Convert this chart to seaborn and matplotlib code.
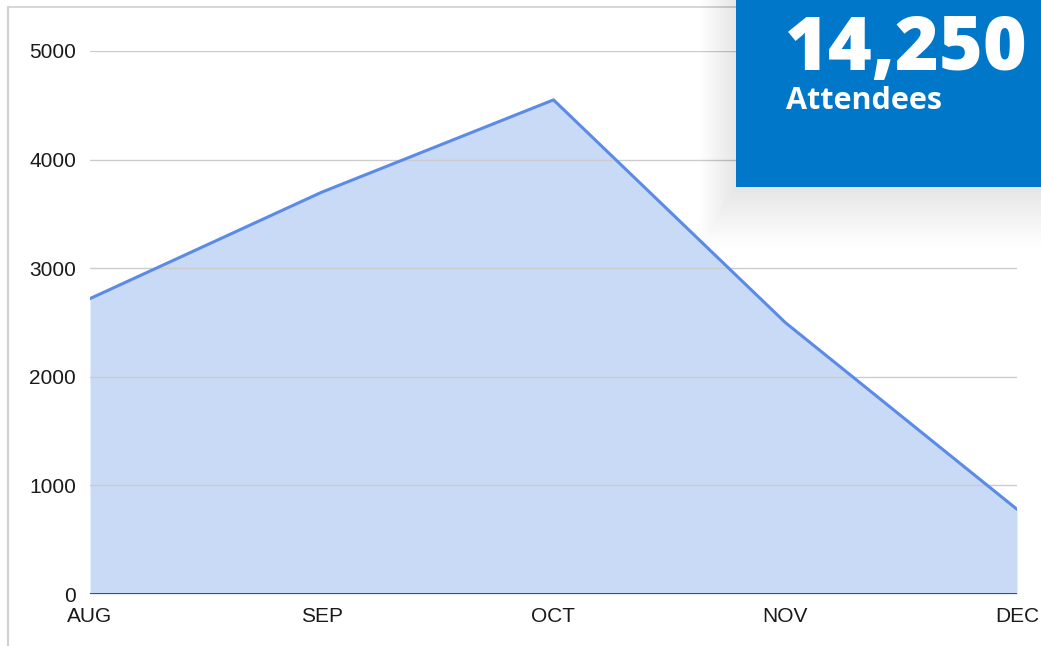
import matplotlib
matplotlib.use("Agg")
import matplotlib.pyplot as plt
from matplotlib.patches import Rectangle
import seaborn as sns
import pandas as pd

months = ["AUG", "SEP", "OCT", "NOV", "DEC"]
attendees = [2720, 3700, 4550, 2500, 780]
y_ticks = [0, 1000, 2000, 3000, 4000, 5000]
total_label = "14,250"
total_caption = "Attendees"

sns.set_style("white")
plt.rcParams["font.family"] = ["Liberation Sans", "DejaVu Sans"]

df = pd.DataFrame({"month": months, "value": attendees, "pos": range(len(months))})

W, H = 1041, 646
fig = plt.figure(figsize=(W / 100, H / 100), dpi=100)
fig.patch.set_facecolor("white")
ax = fig.add_axes([90 / W, 1 - 594 / H, (1017 - 90) / W, (594 - 51) / H])

ax.fill_between(df["pos"], df["value"], 0, color="#C9DAF6", zorder=1, linewidth=0)
sns.lineplot(data=df, x="pos", y="value", ax=ax, color="#5B8BE6", linewidth=2.2, zorder=3)

ax.set_xlim(0, len(months) - 1)
ax.set_ylim(0, 5000)
ax.set_yticks(y_ticks)
ax.set_yticklabels([str(t) for t in y_ticks], fontsize=15, color="#1A1A1A")
ax.set_xticks(df["pos"])
ax.set_xticklabels(months, fontsize=15, color="#1A1A1A")
ax.tick_params(axis="y", length=0, pad=10)
ax.tick_params(axis="x", length=0, pad=9)
for t in y_ticks[1:]:
    ax.axhline(t, color="#CCCCCC", linewidth=1, zorder=2)
ax.axhline(0, color="#333333", linewidth=1.2, zorder=4)
for s in ax.spines.values():
    s.set_visible(False)
ax.set_xlabel("")
ax.set_ylabel("")
ax.set_facecolor("none")

# screenshot frame
fig.add_artist(plt.Line2D([8 / W, 8 / W], [0, 1 - 7 / H], color="#D0D0D0", linewidth=1.5, transform=fig.transFigure))
fig.add_artist(plt.Line2D([8 / W, 1], [1 - 7 / H, 1 - 7 / H], color="#D0D0D0", linewidth=1.2, transform=fig.transFigure))

# soft shadow under the box
n = 25
for i in range(n):
    grow = 60 - i * 2.4
    fig.add_artist(Rectangle(((736 - grow * 0.6) / W, 1 - (187 + grow) / H),
                             (W - 736 + grow) / W, (187 + grow) / H,
                             transform=fig.transFigure, facecolor="#000000", alpha=0.005,
                             edgecolor="none", zorder=5))
fig.add_artist(Rectangle((736 / W, 1 - 187 / H), (W - 736) / W, 187 / H,
                         transform=fig.transFigure, facecolor="#0077C8", edgecolor="none", zorder=6))
fig.text(785 / W, 1 - 50 / H, total_label, fontsize=54, fontweight=800, color="white",
         family=["Open Sans", "DejaVu Sans"], va="center", ha="left", zorder=7)
fig.text(786 / W, 1 - 101 / H, total_caption, fontsize=22, fontweight="bold", color="white",
         family=["Open Sans", "DejaVu Sans"], va="center", ha="left", zorder=7)

fig.savefig("out.png", dpi=100)
